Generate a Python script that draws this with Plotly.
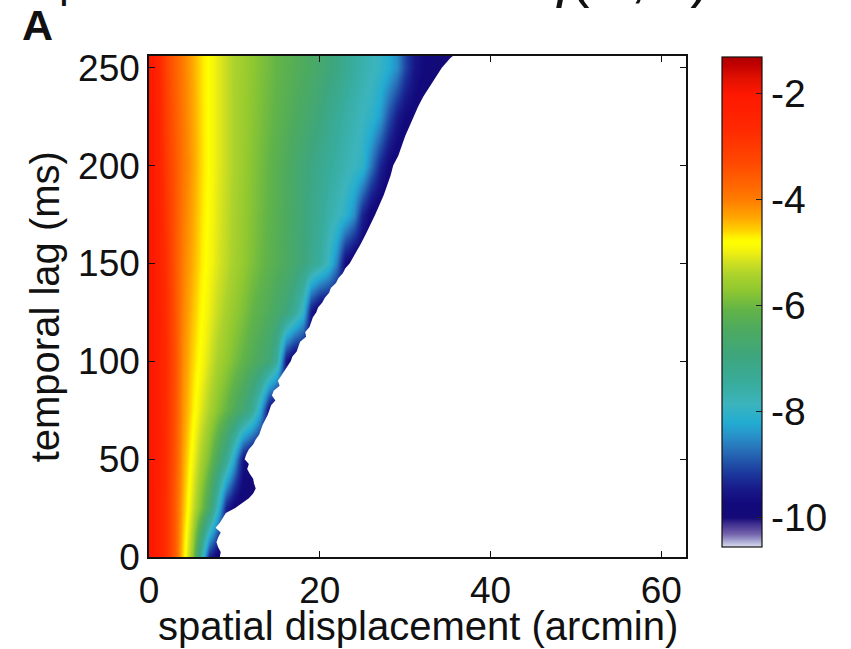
import plotly.graph_objects as go

# ---- data -------------------------------------------------------------
# temporal lag (ms) of each grid row
lag_ms = [0, 25, 50, 75, 100, 125, 150, 175, 200, 225, 250]

# spatial displacement (arcmin) of each grid column
displacement_arcmin = [0, 1, 2, 3, 4, 5, 6, 7, 8, 9, 10, 11, 12, 13, 14, 15, 16, 17, 18,
                       19, 20, 21, 22, 23, 24, 25, 26, 27, 28, 29, 30, 31, 32, 33, 34, 35, 36]

# log10 probability q(x, t), one row per lag
log_q = [
    [-2.0, -2.33, -2.81, -3.6, -4.63, -5.62, -7.3, -9.33, -9.85, -10, -10, -10, -10, -10, -10, -10, -10, -10, -10,
     -10, -10, -10, -10, -10, -10, -10, -10, -10, -10, -10, -10, -10, -10, -10, -10, -10, -10],
    [-2.0, -2.33, -2.81, -3.6, -4.43, -5.15, -5.8, -6.6, -7.83, -9.38, -9.85, -10, -10, -10, -10, -10, -10, -10, -10,
     -10, -10, -10, -10, -10, -10, -10, -10, -10, -10, -10, -10, -10, -10, -10, -10, -10, -10],
    [-2.0, -2.31, -2.75, -3.5, -4.31, -4.9, -5.4, -5.9, -6.5, -7.25, -8.25, -9.55, -9.9, -10, -10, -10, -10, -10, -10,
     -10, -10, -10, -10, -10, -10, -10, -10, -10, -10, -10, -10, -10, -10, -10, -10, -10, -10],
    [-2.0, -2.31, -2.74, -3.46, -4.21, -4.67, -5.05, -5.43, -5.75, -6.07, -6.4, -6.77, -7.25, -8.17, -9.65, -10, -10, -10, -10,
     -10, -10, -10, -10, -10, -10, -10, -10, -10, -10, -10, -10, -10, -10, -10, -10, -10, -10],
    [-2.0, -2.31, -2.72, -3.42, -4.14, -4.56, -4.84, -5.15, -5.44, -5.67, -5.89, -6.11, -6.33, -6.56, -6.85, -7.5, -9.5, -10, -10,
     -10, -10, -10, -10, -10, -10, -10, -10, -10, -10, -10, -10, -10, -10, -10, -10, -10, -10],
    [-2.0, -2.32, -2.76, -3.46, -4.08, -4.46, -4.74, -5.0, -5.24, -5.47, -5.66, -5.85, -6.05, -6.23, -6.41, -6.64, -6.92, -7.35, -8.0,
     -9.5, -10, -10, -10, -10, -10, -10, -10, -10, -10, -10, -10, -10, -10, -10, -10, -10, -10],
    [-2.0, -2.33, -2.81, -3.5, -4.03, -4.37, -4.65, -4.9, -5.1, -5.3, -5.49, -5.66, -5.83, -6.0, -6.16, -6.31, -6.47, -6.69, -6.93,
     -7.21, -7.5, -7.88, -8.63, -9.68, -10, -10, -10, -10, -10, -10, -10, -10, -10, -10, -10, -10, -10],
    [-2.0, -2.36, -2.9, -3.5, -3.98, -4.32, -4.61, -4.86, -5.07, -5.27, -5.46, -5.63, -5.79, -5.96, -6.12, -6.28, -6.44, -6.65, -6.88,
     -7.12, -7.37, -7.6, -7.81, -8.05, -8.5, -9.33, -9.85, -10, -10, -10, -10, -10, -10, -10, -10, -10, -10],
    [-2.0, -2.38, -3.0, -3.5, -3.92, -4.27, -4.58, -4.83, -5.04, -5.24, -5.43, -5.59, -5.76, -5.92, -6.08, -6.25, -6.42, -6.61, -6.83,
     -7.04, -7.22, -7.41, -7.57, -7.71, -7.86, -8.0, -8.67, -9.33, -9.73, -10, -10, -10, -10, -10, -10, -10, -10],
    [-2.0, -2.43, -3.1, -3.58, -3.96, -4.3, -4.59, -4.83, -5.04, -5.24, -5.43, -5.58, -5.72, -5.87, -6.01, -6.15, -6.28, -6.42, -6.57,
     -6.76, -6.94, -7.16, -7.39, -7.57, -7.71, -7.86, -8.0, -8.36, -8.93, -9.45, -9.73, -9.85, -10, -10, -10, -10, -10],
    [-2.0, -2.5, -3.2, -3.64, -4.0, -4.33, -4.61, -4.83, -5.04, -5.24, -5.43, -5.56, -5.69, -5.83, -5.96, -6.08, -6.19, -6.3, -6.41,
     -6.53, -6.7, -6.87, -7.05, -7.27, -7.5, -7.64, -7.79, -7.93, -8.17, -8.5, -9.05, -9.5, -9.7, -9.85, -9.9, -10, -10],
]

# outer limit of the sampled displacements at each lag
edge_lag_ms = [0, 2.5, 5, 7.5, 10, 12.5, 15, 17.5, 20, 22.5, 25, 27.5, 30, 32.5, 35, 37.5, 40, 42.5,
               45, 47.5, 50, 52.5, 55, 57.5, 60, 62.5, 65, 67.5, 70, 72.5, 75, 77.5, 80, 82.5, 85,
               87.5, 90, 92.5, 95, 97.5, 100, 102.5, 105, 107.5, 110, 112.5, 115, 117.5, 120, 122.5,
               125, 127.5, 130, 132.5, 135, 137.5, 140, 142.5, 145, 147.5, 150, 155, 160, 165, 170,
               175, 180, 185, 190, 195, 200, 205, 210, 215, 220, 225, 230, 235, 240, 245, 250, 255, 256]
edge_arcmin = [8.3, 8.4, 8.1, 7.9, 8.1, 8.4, 7.8, 8.3, 8.7, 9.0, 10.1, 10.9, 11.7, 12.2, 12.5, 12.3, 12.2, 11.8,
               11.5, 11.7, 11.2, 11.4, 11.7, 12.2, 12.5, 12.9, 13.1, 13.3, 13.6, 13.9, 14.1, 14.3, 14.8, 14.4, 14.6,
               15.3, 15.1, 15.5, 15.9, 16.2, 16.6, 16.8, 17.3, 17.5, 17.7, 18.4, 18.3, 18.8, 19.0, 19.2,
               19.6, 19.8, 20.3, 20.6, 21.1, 21.3, 21.9, 22.2, 22.7, 23.0, 23.5, 24.2, 24.8, 25.4, 26.0,
               26.5, 27.0, 27.5, 27.9, 28.3, 28.6, 29.2, 29.6, 30.0, 30.5, 31.0, 31.5, 32.1, 32.8, 33.5, 34.3, 35.3, 35.6]

cbar_ticks = [-2, -4, -6, -8, -10]
cbar_ticktext = ["-2", "-4", "-6", "-8", "-10"]
x_ticks = [0, 20, 40, 60]
y_ticks = [0, 50, 100, 150, 200, 250]

# ---- colour map -------------------------------------------------------
Z_MIN, Z_MAX = -10.55, -1.31
cmap_points = [
    (-10.55, "#dcdcee"), (-10.44, "#a8a8d4"), (-10.31, "#7464ac"), (-10.12, "#403090"),
    (-10.0, "#140a78"), (-9.73, "#120a7c"), (-9.48, "#181888"), (-9.23, "#1a3098"),
    (-8.97, "#2050a8"), (-8.72, "#2870b8"), (-8.47, "#2890c8"), (-8.21, "#22acd2"),
    (-7.84, "#3cb4bc"), (-7.46, "#38ac9c"), (-6.96, "#3ea67e"), (-6.46, "#4caa60"),
    (-6.08, "#62b448"), (-5.7, "#90c830"), (-5.42, "#acd22c"), (-5.18, "#d0e020"),
    (-4.99, "#f0f010"), (-4.9, "#f8f808"), (-4.8, "#ffff00"), (-4.7, "#fff000"),
    (-4.61, "#ffd800"), (-4.35, "#ffa800"), (-4.04, "#ff8000"), (-3.78, "#ff6a00"),
    (-3.3, "#ff4800"), (-2.65, "#ff2800"), (-2.03, "#ff1800"), (-1.7, "#e01000"),
    (-1.45, "#c00000"), (-1.31, "#b00000"),
]
colorscale = [[(z - Z_MIN) / (Z_MAX - Z_MIN), c] for z, c in cmap_points]

FONT = "Liberation Sans, Arial, sans-serif"
INK = "#111"

fig = go.Figure()

fig.add_trace(go.Heatmap(
    x=displacement_arcmin, y=lag_ms, z=log_q,
    zmin=Z_MIN, zmax=Z_MAX, colorscale=colorscale, zsmooth="best",
    hoverinfo="skip",
    colorbar=dict(
        x=1.067, xanchor="left", y=0.998, yanchor="top",
        thicknessmode="pixels", thickness=40, lenmode="pixels", len=490,
        xpad=0, ypad=0, outlinewidth=1.2, outlinecolor=INK,
        tickmode="array", tickvals=cbar_ticks, ticktext=cbar_ticktext,
        ticks="inside", ticklen=6, tickwidth=1.2, tickcolor="#222",
        tickfont=dict(family=FONT, size=39, color=INK),
    ),
))

# blank out everything beyond the sampled range
mask_x = [edge_arcmin[0]] + edge_arcmin + [edge_arcmin[-1], 80, 80]
mask_y = [-10] + edge_lag_ms + [270, 270, -10]
fig.add_trace(go.Scatter(
    x=mask_x, y=mask_y, mode="lines", fill="toself",
    fillcolor="white", line=dict(width=0, color="white"),
    hoverinfo="skip", showlegend=False,
))

axis_common = dict(
    showgrid=False, zeroline=False, showline=True, linecolor=INK, linewidth=1.5,
    mirror="ticks", ticks="inside", ticklen=6, tickwidth=1.2, tickcolor=INK,
    tickfont=dict(family=FONT, size=37, color=INK),
)
fig.update_xaxes(range=[0, 62.9], tickmode="array", tickvals=x_ticks, **axis_common)
fig.update_yaxes(range=[0, 256], tickmode="array", tickvals=y_ticks, **axis_common)

# axis labels
fig.add_annotation(text="spatial displacement (arcmin)", xref="paper", yref="paper",
                   x=0.5, y=-0.138, xanchor="center", yanchor="middle", showarrow=False,
                   borderpad=0, font=dict(family=FONT, size=40, color=INK))
fig.add_annotation(text="temporal lag (ms)", xref="paper", yref="paper", textangle=-90,
                   x=-0.194, y=0.5, xanchor="center", yanchor="middle", showarrow=False,
                   borderpad=0, font=dict(family=FONT, size=40, color=INK))

# panel letter and the heading running off the top edge
fig.add_annotation(text="<b>A</b>", xref="paper", yref="paper", x=-0.240, y=1.062,
                   xanchor="left", yanchor="middle", showarrow=False,
                   font=dict(family=FONT, size=43, color=INK))
fig.add_annotation(text="probabilistic model:", xref="paper", yref="paper",
                   x=-0.172, y=1.1486, xanchor="left", yanchor="middle", showarrow=False,
                   font=dict(family=FONT, size=44, color=INK))
fig.add_annotation(text="<i>q</i>(<i>x</i>\u2009, <i>t</i>\u2009)", xref="paper", yref="paper",
                   x=0.72, y=1.1612, xanchor="left", yanchor="middle", showarrow=False,
                   font=dict(family=FONT, size=58, color=INK))

fig.update_layout(
    width=851, height=649,
    margin=dict(l=149.3, r=165, t=55.7, b=92),
    paper_bgcolor="white", plot_bgcolor="white",
    showlegend=False,
)

fig.write_html("out.html")
